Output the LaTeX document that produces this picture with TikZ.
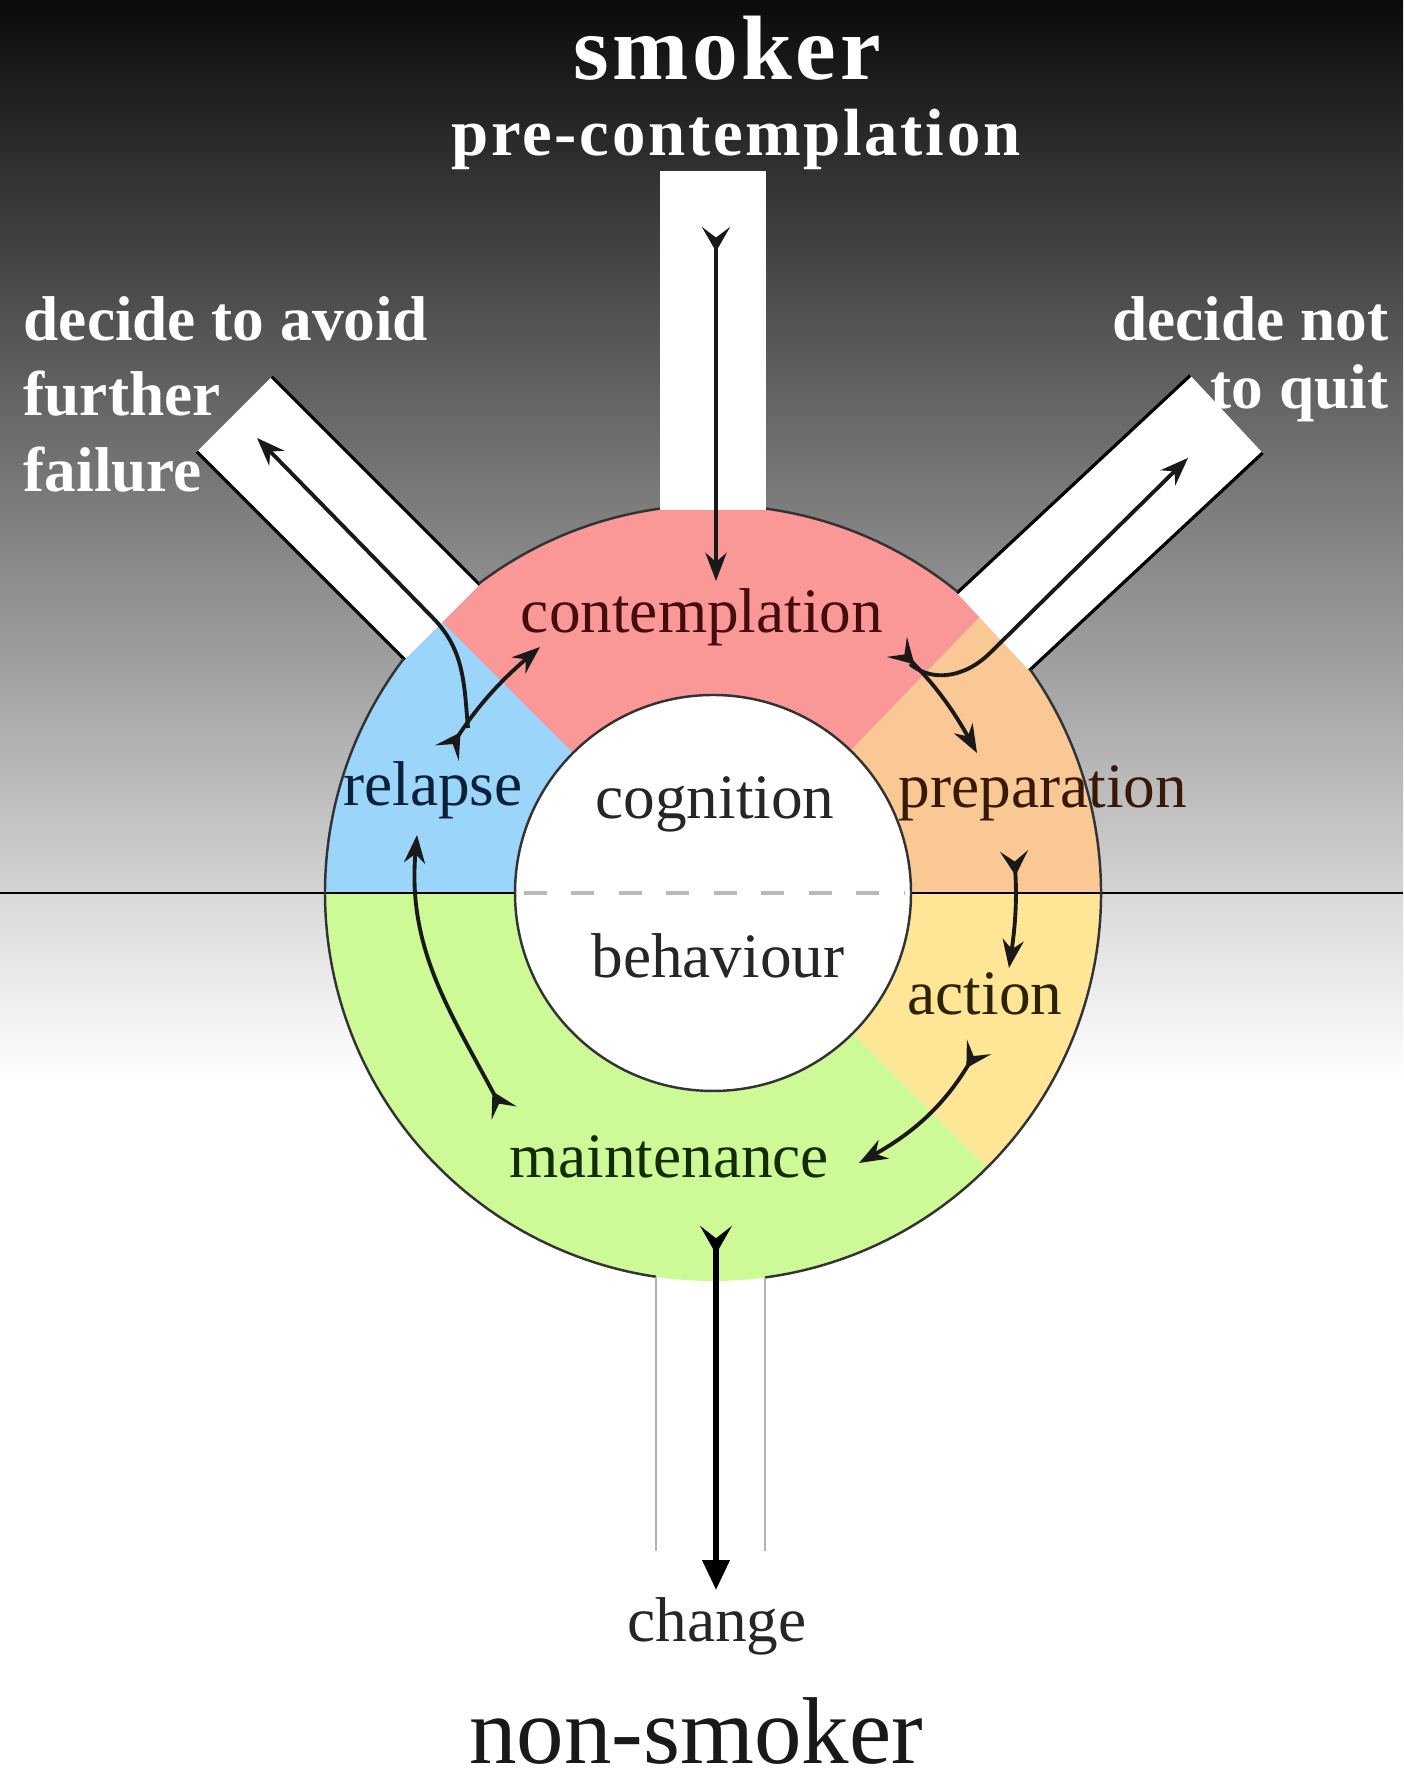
\documentclass[tikz,border=0pt]{standalone}
\usepackage{fontspec}
\setmainfont{Liberation Serif}
\newfontfamily\spacedfont[LetterSpace=4]{Liberation Serif}
\usetikzlibrary{arrows.meta, calc}

\definecolor{segpink}{RGB}{250,152,152}
\definecolor{segblue}{RGB}{155,213,250}
\definecolor{segorange}{RGB}{250,200,148}
\definecolor{segyellow}{RGB}{255,230,150}
\definecolor{seggreen}{RGB}{205,250,150}
\definecolor{txtred}{RGB}{70,12,12}
\definecolor{txtblue}{RGB}{12,32,60}
\definecolor{txtbrown}{RGB}{55,25,5}
\definecolor{txtolive}{RGB}{45,35,0}
\definecolor{txtgreen}{RGB}{20,42,0}

\begin{document}
\begin{tikzpicture}[
  x=0.01cm, y=0.01cm,
  every node/.style={inner sep=0pt},
  lbl/.style={font=\fontsize{18}{20}\selectfont},
  wlbl/.style={font=\bfseries\fontsize{18}{21.4}\selectfont, text=white},
  arr/.style={{Stealth[reversed, length=7pt, width=8pt, inset=3pt]}-{Stealth[length=8pt, width=6pt]},
              line width=1.1pt, black!90},
  brarr/.style={-{Stealth[length=8pt, width=6pt]}, line width=1.1pt, black!90},
  bigarr/.style={{Stealth[reversed, length=8pt, width=9pt, inset=3.5pt]}-{Triangle[length=8.5pt, width=7.5pt]},
                 line width=1.6pt, black},
  ringline/.style={black!80, line width=0.7pt},
  barline/.style={black, line width=0.9pt}
]
\useasboundingbox (0,0) rectangle (1403,1786);

% ---- background ----
\shade[top color=black!96, bottom color=black!17] (0,893) rectangle (1403,1786);
\fill[white] (0,0) rectangle (1403,893);
\shade[top color=black!15, bottom color=white] (0,704) rectangle (1403,893);

\coordinate (C) at (713,893);

% ---- ring sectors ----
\foreach \a/\b/\col in {46/135/segpink, 135/180/segblue, 180/315/seggreen,
                        315/360/segyellow, 0/46/segorange}
  \fill[\col] (C) -- ($(C)+(\a:388)$) arc[start angle=\a, end angle=\b, radius=388] -- cycle;

% ---- white bars ----
\foreach \ang/\len in {135/677, 43/702, 90/722}
  \fill[white, shift={(C)}, rotate=\ang] (383,-53) rectangle (\len,53);
\foreach \ang/\len in {135/677, 43/702}
  \draw[barline, shift={(C)}, rotate=\ang] (383,-53) -- (\len,-53) (383,53) -- (\len,53);

% ---- divider ----
\draw[black, line width=0.8pt] (0,893) -- (1403,893);

% ---- inner circle ----
\draw[ringline, fill=white] (C) circle[radius=198];
\draw[gray!55, line width=1.4pt, dash pattern=on 6.5pt off 7pt] (524,893) -- (905,893);

% ---- ring outline ----
\draw[ringline] ($(C)+(50.85:388)$) arc[start angle=50.85, end angle=82.15, radius=388];
\draw[ringline] ($(C)+(97.85:388)$) arc[start angle=97.85, end angle=127.15, radius=388];
\draw[ringline] ($(C)+(142.85:388)$) arc[start angle=142.85, end angle=261.55, radius=388];
\draw[ringline] ($(C)+(277.7:388)$) arc[start angle=277.7, end angle=395.15, radius=388];

% ---- exit lines ----
\draw[gray!60, line width=0.8pt] (656,509) -- (656,235);
\draw[gray!60, line width=0.8pt] (765,508) -- (765,235);

% ---- labels ----
\node[anchor=base, text=white, font=\spacedfont\bfseries\fontsize{26}{30}\selectfont] (smoker) at (727,1706) {smoker};
\node[anchor=base, text=white, font=\spacedfont\bfseries\fontsize{19}{22}\selectfont] (precont) at (736,1630) {pre-contemplation};
\node[wlbl, align=left, anchor=north west] (avoid) at (23,1490) {decide to avoid\\further\\failure};
\node[wlbl, align=right, anchor=north east, font=\bfseries\fontsize{18}{19.4}\selectfont] (notquit) at (1389,1490) {decide not\\to quit};

\node[lbl, anchor=base, text=txtred] (contemp) at (702,1153) {contemplation};
\node[lbl, anchor=base, text=txtblue] (relapse) at (433,980) {relapse};
\node[lbl, anchor=base, text=black!85] (cognition) at (715,967) {cognition};
\node[lbl, anchor=base, text=txtbrown] (prep) at (1043,978) {preparation};
\node[lbl, anchor=base, text=black!85] (behaviour) at (718,808) {behaviour};
\node[lbl, anchor=base, text=txtolive] (action) at (985,771) {action};
\node[lbl, anchor=base, text=txtgreen] (maint) at (669,608) {maintenance};
\node[lbl, anchor=base, text=black!85] (change) at (717,144) {change};
\node[anchor=base, text=black!90, font=\fontsize{27}{30}\selectfont] (nonsmoker) at (696,22) {non-smoker};

% ---- arrow ends ----
\coordinate (pc-t) at (716,1559);
\coordinate (pc-h) at (716,1205);
\coordinate (cp-t) at (897,1139);
\coordinate (cp-h) at (977,1033);
\coordinate (nq-s) at (910,1122);
\coordinate (nq-k) at (990,1133);
\coordinate (nq-h) at (1188,1328);
\coordinate (pa-t) at (1014,935);
\coordinate (pa-h) at (1009,818);
\coordinate (am-t) at (979,739);
\coordinate (am-h) at (859,623);
\coordinate (mr-t) at (504,673);
\coordinate (mr-h) at (417,951);
\coordinate (rc-t) at (447,1033);
\coordinate (rc-h) at (540,1139);
\coordinate (av-s) at (468,1058);
\coordinate (av-k) at (432,1169);
\coordinate (av-h) at (257,1348);
\coordinate (ch-t) at (716,560);
\coordinate (ch-h) at (716,196);

% ---- arrows ----
\draw[arr] (pc-t) -- (pc-h);
\draw[arr] (cp-t) to[bend left=8] (cp-h);
\draw[brarr] (nq-s) to[out=-40, in=225] (nq-k) -- (nq-h);
\draw[arr] (pa-t) to[bend left=6] (pa-h);
\draw[arr] (am-t) to[bend left=15] (am-h);
\draw[arr] (mr-t) to[out=118, in=-95] (mr-h);
\draw[arr] (rc-t) to[bend left=8] (rc-h);
\draw[brarr] (av-s) to[out=95, in=-45] (av-k) -- (av-h);
\draw[bigarr] (ch-t) -- (ch-h);

\end{tikzpicture}
\end{document}
